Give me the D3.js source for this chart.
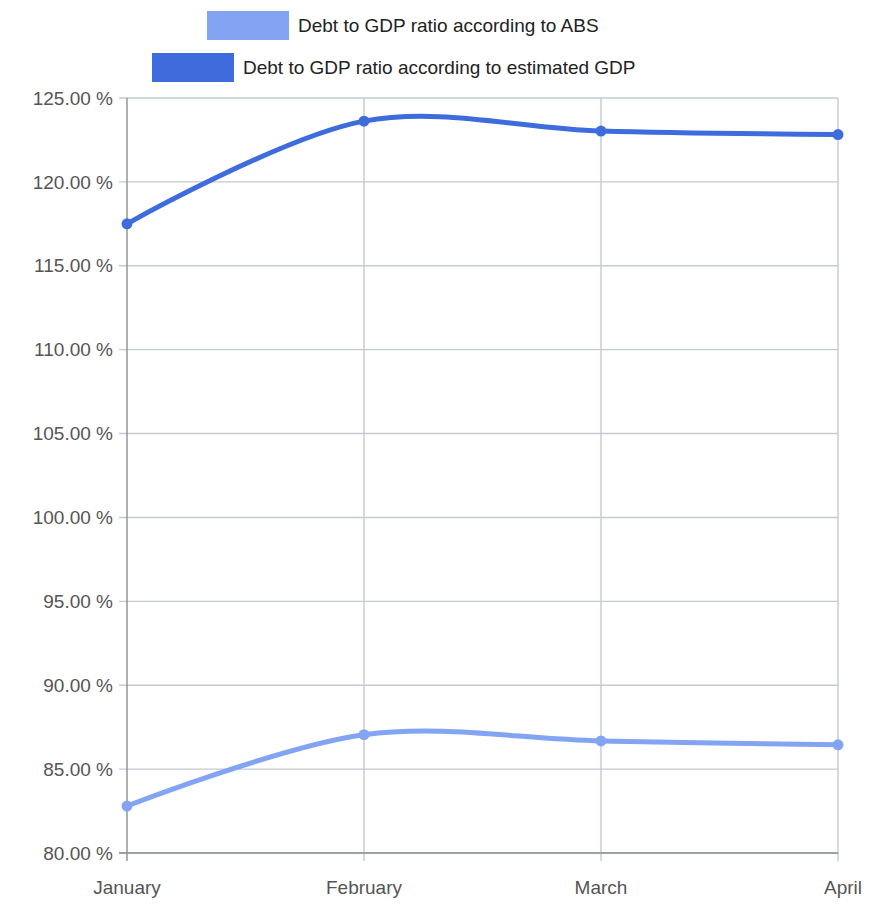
<!DOCTYPE html>
<html><head><meta charset="utf-8">
<script src="https://cdn.jsdelivr.net/npm/d3@7"></script>
<style>body{margin:0;background:#fff}</style>
</head><body><div id="chart"></div>
<script>
const months = ["January", "February", "March", "April"];
const absRatio = [82.8, 87.05, 86.68, 86.45];
const estRatio = [117.5, 123.62, 123.03, 122.82];
const yTicks = [80, 85, 90, 95, 100, 105, 110, 115, 120, 125];
const seriesNames = ["Debt to GDP ratio according to ABS", "Debt to GDP ratio according to estimated GDP"];
const colors = ["#82a4f2", "#3f6cdc"];

const W = 870, H = 922;
const margin = { top: 98, right: 32, bottom: 69, left: 127 };
const svg = d3.select("#chart").append("svg").attr("width", W).attr("height", H)
  .style("font-family", "'Liberation Sans', Arial, sans-serif");

const x = d3.scalePoint().domain(months).range([margin.left, W - margin.right]);
const y = d3.scaleLinear().domain([80, 125]).range([H - margin.bottom, margin.top]);

// grid
svg.append("g").selectAll("line").data(yTicks).join("line")
  .attr("x1", margin.left - 8).attr("x2", W - margin.right)
  .attr("y1", d => y(d)).attr("y2", d => y(d))
  .attr("stroke", "#c3cad3").attr("stroke-width", 1.4);
svg.append("g").selectAll("line").data(months).join("line")
  .attr("x1", d => x(d)).attr("x2", d => x(d))
  .attr("y1", margin.top).attr("y2", H - margin.bottom + 8)
  .attr("stroke", d => d === months[0] ? "#8a8f96" : "#c3cad3").attr("stroke-width", 1.4);
svg.append("line").attr("x1", margin.left - 8).attr("x2", W - margin.right)
  .attr("y1", y(80)).attr("y2", y(80)).attr("stroke", "#8a8f96").attr("stroke-width", 1.4);

// tick labels
svg.append("g").selectAll("text").data(yTicks).join("text")
  .attr("x", margin.left - 14).attr("y", d => y(d)).attr("dy", "0.35em")
  .attr("text-anchor", "end").attr("fill", "#555").style("font-size", "19px")
  .text(d => d3.format(".2f")(d) + " %");
svg.append("g").selectAll("text").data(months).join("text")
  .attr("x", (d, i) => i === months.length - 1 ? x(d) + 24 : x(d))
  .attr("y", H - margin.bottom + 41)
  .attr("text-anchor", (d, i) => i === months.length - 1 ? "end" : "middle")
  .attr("fill", "#555").style("font-size", "19px").text(d => d);

// lines
const line = d3.line().x((d, i) => x(months[i])).y(d => y(d)).curve(d3.curveCatmullRom.alpha(0.5));
[absRatio, estRatio].forEach((vals, k) => {
  svg.append("path").datum(vals).attr("d", line).attr("fill", "none")
    .attr("stroke", colors[k]).attr("stroke-width", 5);
  svg.append("g").selectAll("circle").data(vals).join("circle")
    .attr("cx", (d, i) => x(months[i])).attr("cy", d => y(d)).attr("r", 5.5)
    .attr("fill", colors[k]);
});

// legend
const legendPos = [{ x: 207, y: 11 }, { x: 152, y: 53 }];
seriesNames.forEach((name, k) => {
  const g = svg.append("g").attr("transform", `translate(${legendPos[k].x},${legendPos[k].y})`);
  g.append("rect").attr("width", 82).attr("height", 29).attr("fill", colors[k]);
  g.append("text").attr("x", 91).attr("y", 14.5).attr("dy", "0.35em")
    .style("font-size", "19px").attr("fill", "#222").text(name);
});
</script></body></html>
